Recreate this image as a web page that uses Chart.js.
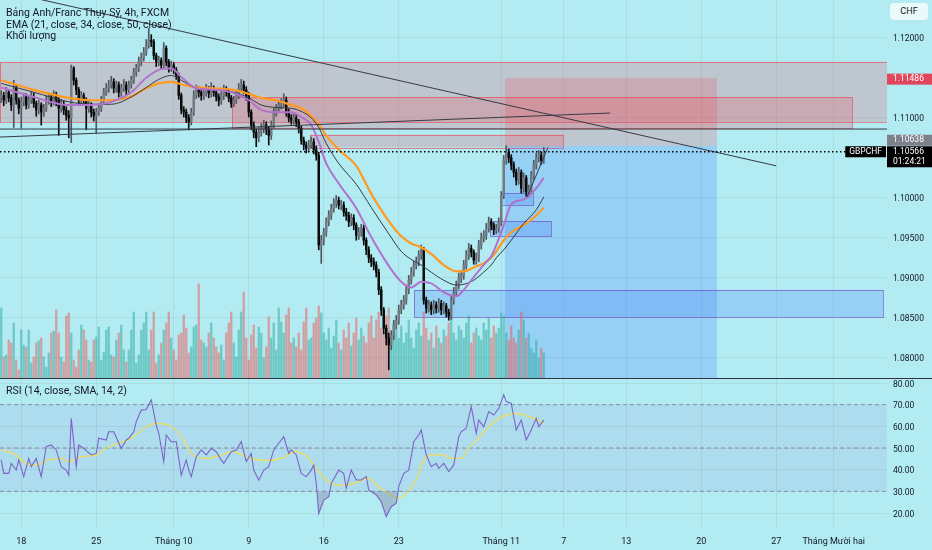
<!DOCTYPE html>
<html>
<head>
<meta charset="utf-8">
<script src="https://cdn.jsdelivr.net/npm/chart.js@4.4.0/dist/chart.umd.min.js"></script>
<style>
  html, body { margin: 0; padding: 0; background: #b2ebf2; }
  #wrap { position: relative; width: 932px; height: 550px; overflow: hidden; font-family: Roboto, "Noto Sans", sans-serif; color: #131722; }
  #priceCanvas { position: absolute; left: 0; top: 0; }
  #rsiCanvas { position: absolute; left: 0; top: 379px; }
  #sep { position: absolute; left: 0; top: 378px; width: 932px; height: 1px; background: #2f333d; }
  .txt { position: absolute; font-size: 10.5px; line-height: 11px; white-space: nowrap; }
  #ccy { position: absolute; left: 890px; top: 3px; width: 38px; height: 17px; line-height: 17px; background: #eafafb; border-radius: 4px; font-size: 9px; text-align: center; }
</style>
</head>
<body>
<div id="wrap">
  <canvas id="priceCanvas" width="932" height="378"></canvas>
  <div id="sep"></div>
  <canvas id="rsiCanvas" width="932" height="171"></canvas>
  <div class="txt" style="left:6px;top:7px">Bảng Anh/Franc Thụy Sỹ, 4h, FXCM</div>
  <div class="txt" style="left:6px;top:18.5px">EMA (21, close, 34, close, 50, close)</div>
  <div class="txt" style="left:6px;top:29.5px">Khối lượng</div>
  <div class="txt" style="left:6px;top:385px">RSI (14, close, SMA, 14, 2)</div>
  <div id="ccy">CHF</div>
</div>
<script>
/* ============================
      DỮ LIỆU NẾN 4H
============================ */
const opens = [
  1.1124,1.1127,1.1121,1.1131,1.1124,1.1115,1.1136,1.1121,1.1111,1.1119,
  1.1125,1.1115,1.1121,1.1126,1.1117,1.1109,1.1115,1.1106,1.1111,1.1121,
  1.1125,1.1119,1.1127,1.1121,1.1111,1.1116,1.1109,1.1102,1.1099,1.1161,
  1.1146,1.1134,1.1121,1.1127,1.1121,1.1111,1.1115,1.1106,1.1102,1.1106,
  1.1111,1.1121,1.1131,1.1136,1.1140,1.1144,1.1136,1.1140,1.1131,1.1136,
  1.1140,1.1134,1.1140,1.1146,1.1156,1.1161,1.1169,1.1174,1.1181,1.1190,
  1.1196,1.1194,1.1177,1.1169,1.1171,1.1165,1.1186,1.1169,1.1161,1.1165,
  1.1159,1.1152,1.1127,1.1109,1.1106,1.1099,1.1094,1.1106,1.1127,1.1134,
  1.1131,1.1127,1.1131,1.1134,1.1130,1.1136,1.1131,1.1125,1.1121,1.1127,
  1.1134,1.1131,1.1124,1.1117,1.1121,1.1127,1.1136,1.1140,1.1134,1.1127,
  1.1106,1.1090,1.1081,1.1074,1.1081,1.1086,1.1090,1.1084,1.1077,1.1090,
  1.1106,1.1111,1.1115,1.1117,1.1121,1.1106,1.1099,1.1096,1.1099,1.1094,
  1.1086,1.1071,1.1065,1.1061,1.1065,1.1069,1.1059,1.1052,1.0940,1.0946,
  1.0956,1.0969,1.0977,1.0986,1.0992,1.0996,1.0990,1.0990,1.0981,1.0977,
  1.0969,1.0974,1.0965,1.0952,1.0956,1.0961,1.0946,1.0934,1.0924,1.0919,
  1.0915,1.0906,1.0884,1.0859,1.0836,1.0824,1.0815,1.0827,1.0840,1.0846,
  1.0859,1.0865,1.0871,1.0884,1.0896,1.0906,1.0915,1.0919,1.0927,1.0934,
  1.0871,1.0861,1.0865,1.0859,1.0865,1.0861,1.0867,1.0859,1.0864,1.0856,
  1.0851,1.0871,1.0881,1.0890,1.0899,1.0902,1.0915,1.0927,1.0936,1.0931,
  1.0921,1.0924,1.0940,1.0949,1.0952,1.0961,1.0969,1.0965,1.0959,1.0961,
  1.0969,1.1002,1.1046,1.1056,1.1049,1.1040,1.1031,1.1021,1.1031,1.1011,
  1.1024,1.1006,1.1009,1.1027,1.1040,1.1049,1.1052,1.1046
];
const highs = [
  1.1133,1.1131,1.1137,1.1134,1.1128,1.1146,1.1139,1.1124,1.1125,1.1130,
  1.1129,1.1126,1.1132,1.1130,1.1120,1.1121,1.1118,1.1116,1.1127,1.1130,
  1.1129,1.1133,1.1131,1.1124,1.1122,1.1120,1.1113,1.1108,1.1165,1.1163,
  1.1149,1.1137,1.1132,1.1130,1.1124,1.1121,1.1118,1.1110,1.1111,1.1117,
  1.1126,1.1136,1.1142,1.1146,1.1151,1.1148,1.1145,1.1144,1.1141,1.1147,
  1.1144,1.1145,1.1151,1.1161,1.1166,1.1175,1.1180,1.1187,1.1197,1.1211,
  1.1203,1.1197,1.1180,1.1176,1.1174,1.1193,1.1189,1.1172,1.1170,1.1168,
  1.1162,1.1155,1.1130,1.1113,1.1110,1.1103,1.1111,1.1133,1.1140,1.1138,
  1.1135,1.1137,1.1141,1.1138,1.1143,1.1139,1.1134,1.1129,1.1132,1.1140,
  1.1138,1.1134,1.1127,1.1126,1.1133,1.1142,1.1147,1.1145,1.1138,1.1131,
  1.1109,1.1094,1.1085,1.1087,1.1092,1.1096,1.1094,1.1088,1.1095,1.1111,
  1.1116,1.1120,1.1123,1.1129,1.1125,1.1110,1.1103,1.1104,1.1103,1.1097,
  1.1089,1.1075,1.1069,1.1071,1.1075,1.1073,1.1064,1.1056,1.0952,1.0961,
  1.0974,1.0983,1.0991,1.0998,1.1002,1.1000,1.0996,1.0994,1.0986,1.0981,
  1.0979,1.0978,1.0968,1.0962,1.0966,1.0965,1.0949,1.0938,1.0928,1.0924,
  1.0919,1.0910,1.0888,1.0862,1.0840,1.0830,1.0833,1.0846,1.0852,1.0865,
  1.0871,1.0877,1.0889,1.0902,1.0912,1.0920,1.0925,1.0933,1.0940,1.0937,
  1.0875,1.0871,1.0869,1.0871,1.0869,1.0873,1.0871,1.0869,1.0867,1.0860,
  1.0876,1.0887,1.0895,1.0905,1.0908,1.0921,1.0933,1.0942,1.0940,1.0934,
  1.0930,1.0946,1.0955,1.0958,1.0967,1.0975,1.0973,1.0968,1.0966,1.0974,
  1.1007,1.1052,1.1064,1.1060,1.1053,1.1044,1.1035,1.1037,1.1034,1.1030,
  1.1027,1.1015,1.1032,1.1046,1.1055,1.1058,1.1056,1.1062
];
const lows = [
  1.1118,1.1114,1.1117,1.1119,1.1108,1.1087,1.1116,1.1104,1.1086,1.1114,
  1.1110,1.1111,1.1117,1.1112,1.1101,1.1104,1.1090,1.1101,1.1107,1.1116,
  1.1113,1.1115,1.1114,1.1077,1.1106,1.1103,1.1096,1.1074,1.1068,1.1140,
  1.1128,1.1115,1.1117,1.1116,1.1084,1.1106,1.1100,1.1095,1.1080,1.1102,
  1.1107,1.1117,1.1127,1.1131,1.1136,1.1130,1.1131,1.1125,1.1126,1.1132,
  1.1128,1.1130,1.1136,1.1142,1.1151,1.1157,1.1164,1.1170,1.1177,1.1186,
  1.1188,1.1172,1.1163,1.1164,1.1160,1.1161,1.1164,1.1156,1.1157,1.1154,
  1.1147,1.1122,1.1104,1.1100,1.1093,1.1084,1.1090,1.1102,1.1123,1.1125,
  1.1121,1.1122,1.1126,1.1124,1.1125,1.1126,1.1120,1.1114,1.1116,1.1122,
  1.1126,1.1119,1.1112,1.1113,1.1117,1.1123,1.1131,1.1129,1.1121,1.1100,
  1.1084,1.1074,1.1063,1.1069,1.1076,1.1080,1.1078,1.1065,1.1072,1.1086,
  1.1101,1.1107,1.1110,1.1113,1.1101,1.1094,1.1091,1.1091,1.1088,1.1080,
  1.1066,1.1059,1.1055,1.1057,1.1061,1.1054,1.1046,1.0934,1.0917,1.0940,
  1.0951,1.0964,1.0972,1.0981,1.0987,1.0985,1.0984,1.0976,1.0971,1.0963,
  1.0964,1.0959,1.0946,1.0947,1.0951,1.0940,1.0928,1.0918,1.0913,1.0909,
  1.0900,1.0878,1.0852,1.0829,1.0815,1.0784,1.0809,1.0822,1.0835,1.0841,
  1.0854,1.0860,1.0866,1.0879,1.0891,1.0901,1.0910,1.0914,1.0922,1.0866,
  1.0855,1.0856,1.0853,1.0854,1.0855,1.0856,1.0853,1.0854,1.0850,1.0846,
  1.0847,1.0866,1.0876,1.0885,1.0893,1.0897,1.0910,1.0922,1.0925,1.0916,
  1.0916,1.0919,1.0935,1.0944,1.0947,1.0956,1.0959,1.0953,1.0954,1.0956,
  1.0964,1.0998,1.1041,1.1043,1.1034,1.1025,1.1015,1.1016,1.1005,1.1006,
  1.1001,1.1000,1.1004,1.1022,1.1035,1.1044,1.1041,1.1042
];
const closes = [
  1.1127,1.1121,1.1131,1.1124,1.1115,1.1136,1.1121,1.1111,1.1119,1.1125,
  1.1115,1.1121,1.1126,1.1117,1.1109,1.1115,1.1106,1.1111,1.1121,1.1125,
  1.1119,1.1127,1.1121,1.1111,1.1116,1.1109,1.1102,1.1099,1.1161,1.1146,
  1.1134,1.1121,1.1127,1.1121,1.1111,1.1115,1.1106,1.1102,1.1106,1.1111,
  1.1121,1.1131,1.1136,1.1140,1.1144,1.1136,1.1140,1.1131,1.1136,1.1140,
  1.1134,1.1140,1.1146,1.1156,1.1161,1.1169,1.1174,1.1181,1.1190,1.1196,
  1.1194,1.1177,1.1169,1.1171,1.1165,1.1186,1.1169,1.1161,1.1165,1.1159,
  1.1152,1.1127,1.1109,1.1106,1.1099,1.1094,1.1106,1.1127,1.1134,1.1131,
  1.1127,1.1131,1.1134,1.1130,1.1136,1.1131,1.1125,1.1121,1.1127,1.1134,
  1.1131,1.1124,1.1117,1.1121,1.1127,1.1136,1.1140,1.1134,1.1127,1.1106,
  1.1090,1.1081,1.1074,1.1081,1.1086,1.1090,1.1084,1.1077,1.1090,1.1106,
  1.1111,1.1115,1.1117,1.1121,1.1106,1.1099,1.1096,1.1099,1.1094,1.1086,
  1.1071,1.1065,1.1061,1.1065,1.1069,1.1059,1.1052,1.0940,1.0946,1.0956,
  1.0969,1.0977,1.0986,1.0992,1.0996,1.0990,1.0990,1.0981,1.0977,1.0969,
  1.0974,1.0965,1.0952,1.0956,1.0961,1.0946,1.0934,1.0924,1.0919,1.0915,
  1.0906,1.0884,1.0859,1.0836,1.0824,1.0815,1.0827,1.0840,1.0846,1.0859,
  1.0865,1.0871,1.0884,1.0896,1.0906,1.0915,1.0919,1.0927,1.0934,1.0871,
  1.0861,1.0865,1.0859,1.0865,1.0861,1.0867,1.0859,1.0864,1.0856,1.0851,
  1.0871,1.0881,1.0890,1.0899,1.0902,1.0915,1.0927,1.0936,1.0931,1.0921,
  1.0924,1.0940,1.0949,1.0952,1.0961,1.0969,1.0965,1.0959,1.0961,1.0969,
  1.1002,1.1046,1.1056,1.1049,1.1040,1.1031,1.1021,1.1031,1.1011,1.1024,
  1.1006,1.1009,1.1027,1.1040,1.1049,1.1052,1.1046,1.1057
];
// khối lượng (nghìn)
const volumes = [
  70,21,23,38,35,55,18,8,48,33,31,48,15,21,35,37,40,21,11,25,
  45,47,68,45,21,16,62,65,45,18,11,28,53,48,38,18,16,38,41,51,
  18,26,48,51,23,21,38,45,53,28,16,28,48,66,15,23,48,55,66,28,
  48,66,15,23,35,48,55,66,40,28,18,43,45,63,50,25,31,51,53,94,
  38,35,31,45,55,40,31,25,33,18,45,55,66,35,21,48,66,86,40,18,
  43,53,30,51,45,20,31,61,40,55,28,70,56,45,63,70,35,40,31,45,28,56,70,38,
  40,55,60,72,65,45,38,50,30,42,58,35,28,48,40,55,32,45,60,38,50,42,35,55,62,40,
  58,66,50,45,62,70,38,55,48,40,52,35,45,58,40,30,48,55,42,66,50,38,45,30,52,40,35,48,42,55,
  60,45,38,52,48,40,55,62,35,45,50,42,38,55,48,60,40,52,45,50,
  65,62,45,38,52,40,35,48,66,58,40,45,30,25,38,20,30,25
];

/* ============================
      EMA 21 / 34 / 50
============================ */
const emaBars = [0,13,27,36,44,52,58,63,68,72,78,85,93,99,104,110,116,120,124,127,
                 130,135,142,148,155,160,164,168,172,177,182,185,189,194,196,198,201,204,209,214,217];
const ema21 = [1.1137,1.1125,1.1115,1.1115,1.1119,1.1131,1.1149,1.1159,1.1161,1.1150,
               1.1136,1.1134,1.1130,1.1121,1.1109,1.1106,1.1106,1.1100,1.1090,1.1069,
               1.1042,1.1017,1.0986,1.0950,1.0914,1.0894,1.0887,1.0894,1.0892,1.0881,
               1.0876,1.0884,1.0900,1.0919,1.0926,1.0940,1.0965,1.0991,1.0997,1.1011,1.1024];
const ema34 = [1.1142,1.1131,1.1119,1.1116,1.1116,1.1125,1.1137,1.1147,1.1152,1.1146,
               1.1136,1.1134,1.1131,1.1124,1.1115,1.1112,1.1111,1.1107,1.1099,1.1087,
               1.1067,1.1042,1.1016,1.0987,1.0954,1.0932,1.0922,1.0915,1.0906,1.0896,
               1.0890,1.0891,1.0896,1.0909,1.0915,1.0924,1.0934,1.0946,1.0967,1.0984,1.1000];
const ema50 = [1.1146,1.1134,1.1124,1.1121,1.1121,1.1126,1.1136,1.1142,1.1144,1.1141,
               1.1137,1.1136,1.1134,1.1129,1.1124,1.1121,1.1115,1.1111,1.1101,1.1091,
               1.1077,1.1059,1.1039,1.1004,1.0970,1.0951,1.0942,1.0937,1.0929,1.0915,
               1.0907,1.0907,1.0912,1.0919,1.0924,1.0932,1.0946,1.0956,1.0965,1.0977,1.0987];

/* ============================
      RSI (14) + SMA (14)
============================ */
const rsiBars = [0,1,3,4,6,7,9,11,12,14, 16,18,20,22,24,26,27,28,30,31,
                 33,36,38,39,42,43,45,48,50,51, 53,54,56,58,60,62,63,65,66,68,
                 70,72,74,75,76,78,80,82,84,86, 88,89,92,94,96,98,100,101,103,105,
                 107,109,111,113,115,116,118,120,122,124, 125,126,127,129,131,132,135,137,138,140,
                 142,144,146,147,150,152,154,156,158,159, 161,163,165,167,168,170,172,174,175,177,
                 179,181,183,184,186,188,190,191,193,195, 197,199,201,202,204,206,208,210,212,214,
                 215,217];
const rsiValues = [44.5,38.3,38.3,42.9,39.8,44.5,36.8,45.2,41.4,45.2, 36.8,50.6,51.4,49.1,41.4,39.8,37.5,63.7,41.4,51.4,
                   49.8,46.8,47.5,54.5,53.7,57.5,57.5,49.8,53.7,54.5, 57.5,62.2,67.5,67.8,72.2,60.6,56.8,43.7,56.0,52.9,
                   52.9,37.5,44.5,39.8,36.8,46.0,49.1,46.8,49.8,48.3, 44.5,42.9,48.3,49.1,52.9,43.7,47.5,39.8,35.2,39.8,
                   41.4,49.1,52.2,55.2,47.5,49.1,46.8,38.3,36.8,39.8, 42.2,33.7,19.8,26.0,27.5,33.7,39.8,38.3,31.4,39.8,
                   35.2,35.2,36.8,30.6,28.3,25.2,18.3,22.9,24.5,32.2, 38.3,39.8,52.9,56.0,58.3,46.8,41.4,42.9,40.6,42.9,
                   39.1,42.2,55.2,57.5,59.1,69.1,56.8,62.9,59.8,66.8, 65.2,68.3,74.5,71.4,70.6,58.3,62.9,53.7,58.3,63.7,
                   59.8,62.9];
const smaBars = [0,5,10,14,19,24,27,32,38,43, 48,53,57,62,67,72,76,82,88,92,
                 95,100,106,112,118,123,126,130,134,138, 143,147,150,154,159,162,166,169,173,177,
                 180,184,187,191,195,198,202,206,211,215, 217];
const smaValues = [49.1,47.5,42.9,42.2,44.5,45.2,43.7,46.0,46.8,50.6,
                   52.5,55.2,59.1,61.4,60.6,55.2,47.5,45.2,46.8,48.3,
                   47.5,45.2,44.2,45.2,48.3,45.2,40.6,35.2,32.9,32.9,
                   34.5,36.0,32.9,29.8,26.8,29.1,35.2,44.5,46.8,46.8,
                   45.2,45.2,49.8,54.5,59.8,62.9,65.2,66.0,64.5,62.9,
                   61.4];
const rsiLevels = [70, 50, 30];

/* ============================
      TRỤC & NHÃN
============================ */
const xMin = -0.5, xMax = 354.3;
const dateTickBars = [8, 38, 69, 99, 129, 159, 200, 225, 250, 280, 310, 333];
const dateTickLabels = ['18','25','Tháng 10','9','16','23','Tháng 11','7','13','20','27','Tháng Mười hai'];
const priceMin = 1.07738, priceMax = 1.12463;
const priceTicks = [1.08, 1.085, 1.09, 1.095, 1.10, 1.11, 1.12];
const rsiMin = 13.08, rsiMax = 81.85;
const rsiTicks = [20, 30, 40, 50, 60, 70, 80];

/* ============================
      VÙNG & ĐƯỜNG VẼ
============================ */
const lastPrice = 1.10566;
const countdown = '01:24:21';
const symbol = 'GBPCHF';
const posStart = 201.5, posEnd = 286.3;
const posEntry = 1.10638, posStop = 1.11486, posTarget = 1.0700;

const supplyLeft   = [xMin, 92.3, 123.5];
const supplyRight  = [xMax, 340.3, 224.7];
const supplyTop    = [1.1169, 1.1125, 1.1078];
const supplyBottom = [1.1094, 1.1086, 1.1062];

const demandLeft   = [165.1, 199.9, 195.5];
const demandRight  = [352.7, 212.7, 219.9];
const demandTop    = [1.0884, 1.1005, 1.0970];
const demandBottom = [1.0850, 1.0990, 1.0951];

const downTrendBars = [10, 310],   downTrendPrices = [1.1251, 1.1039];
const upTrendBars = [xMin, 243.5], upTrendPrices = [1.1075, 1.1105];
const flatLineBars = [xMin, xMax], flatLinePrices = [1.1085, 1.1085];
const microTrendBars = [210.3, 218.7], microTrendPrices = [1.1000, 1.1062];

/* ============================
      CHART
============================ */
Chart.defaults.font.family = 'Roboto, "Noto Sans", sans-serif';
Chart.defaults.font.size = 8.5;
Chart.defaults.color = '#131722';

const gridColor = 'rgba(42,46,57,0.07)';
const idx = closes.map((c, i) => i);
const isUp = idx.map(i => closes[i] >= opens[i]);
const pts = (xs, ys) => xs.map((x, k) => ({ x: x, y: ys[k] }));

const lineDs = (data, color, width, order, extra) => Object.assign({
    type: 'line', data: data, borderColor: color, borderWidth: width,
    pointRadius: 0, fill: false, order: order, tension: 0
}, extra || {});

const zonePlugin = {
    id: 'zones',
    beforeDatasetsDraw(chart) {
        const { ctx, chartArea, scales } = chart;
        const x = scales.x, y = scales.y;
        ctx.save();
        ctx.beginPath();
        ctx.rect(chartArea.left, chartArea.top, chartArea.width, chartArea.height);
        ctx.clip();
        const rect = (l, r, t, b, fill, stroke) => {
            const x0 = x.getPixelForValue(l), x1 = x.getPixelForValue(r);
            const y0 = y.getPixelForValue(t), y1 = y.getPixelForValue(b);
            ctx.fillStyle = fill;
            ctx.fillRect(x0, y0, x1 - x0, y1 - y0);
            if (stroke) {
                ctx.strokeStyle = stroke;
                ctx.lineWidth = 1;
                ctx.strokeRect(Math.round(x0) + 0.5, Math.round(y0) + 0.5, Math.round(x1 - x0), Math.round(y1 - y0));
            }
        };
        supplyLeft.forEach((l, k) => rect(l, supplyRight[k], supplyTop[k], supplyBottom[k], 'rgba(242,54,69,0.2)', 'rgba(242,54,69,0.55)'));
        // short position tool
        rect(posStart, posEnd, posStop, posEntry, 'rgba(242,54,69,0.2)', null);
        rect(posStart, posEnd, posEntry, posTarget, 'rgba(41,98,255,0.2)', null);
        demandLeft.forEach((l, k) => rect(l, demandRight[k], demandTop[k], demandBottom[k], 'rgba(41,98,255,0.2)', 'rgba(103,58,183,0.55)'));
        ctx.restore();
    }
};

const labelPlugin = {
    id: 'priceLabels',
    afterDraw(chart) {
        const { ctx, chartArea, scales } = chart;
        const y = scales.y;
        const left = chartArea.right;
        ctx.save();
        ctx.font = '8.5px Roboto, "Noto Sans", sans-serif';
        ctx.textBaseline = 'middle';
        const tag = (cy, h, bg, lines) => {
            ctx.fillStyle = bg;
            ctx.fillRect(left, cy - h / 2, 932 - left, h);
            ctx.fillStyle = '#ffffff';
            lines.forEach((t, k) => ctx.fillText(t, left + 6, cy - h / 2 + 5.5 + k * 10));
        };
        const yLast = y.getPixelForValue(lastPrice);
        const lastTop = yLast - 5.5;
        tag(y.getPixelForValue(posStop) + 1, 11, '#e2465d', [posStop.toFixed(5)]);
        const yEntry = Math.min(y.getPixelForValue(posEntry), lastTop - 6);
        tag(yEntry, 11, '#7c818c', [posEntry.toFixed(5)]);
        tag(yLast + 5, 21, '#000000', [lastPrice.toFixed(5), countdown]);
        // symbol tag
        ctx.fillStyle = '#000000';
        const w = ctx.measureText(symbol).width + 8;
        ctx.fillRect(left - w - 1, yLast - 5.5, w, 11);
        ctx.fillStyle = '#ffffff';
        ctx.fillText(symbol, left - w + 3, yLast);
        ctx.restore();
    }
};

new Chart(document.getElementById('priceCanvas'), {
    type: 'bar',
    data: {
        datasets: [
            {
                type: 'bar', yAxisID: 'vol', grouped: false, order: 20,
                data: idx.map(i => ({ x: i, y: volumes[i] })),
                backgroundColor: idx.map(i => isUp[i] ? 'rgba(38,166,154,0.5)' : 'rgba(239,83,80,0.5)'),
                barThickness: 1.6
            },
            {
                type: 'bar', grouped: false, order: 9,
                data: idx.map(i => ({ x: i, y: [lows[i], highs[i]] })),
                backgroundColor: idx.map(i => isUp[i] ? '#505760' : '#0b0b0b'),
                barThickness: 1
            },
            {
                type: 'bar', grouped: false, order: 8, minBarLength: 1,
                data: idx.map(i => ({ x: i, y: [opens[i], closes[i]] })),
                backgroundColor: idx.map(i => isUp[i] ? '#737a83' : '#0b0b0b'),
                barThickness: 1.8
            },
            lineDs(pts(emaBars, ema50), '#ff9a1f', 2.2, 5, { cubicInterpolationMode: 'monotone' }),
            lineDs(pts(emaBars, ema34), '#343a44', 1, 4, { cubicInterpolationMode: 'monotone' }),
            lineDs(pts(emaBars, ema21), '#b072cc', 2, 3, { cubicInterpolationMode: 'monotone' }),
            lineDs(pts(downTrendBars, downTrendPrices), '#363a45', 1, 1),
            lineDs(pts(upTrendBars, upTrendPrices), '#363a45', 1, 1),
            lineDs(pts(flatLineBars, flatLinePrices), '#363a45', 1, 1),
            lineDs(pts(microTrendBars, microTrendPrices), '#363a45', 1, 1),
            lineDs(pts([xMin, xMax], [lastPrice, lastPrice]), '#000000', 1.5, 0, { borderDash: [1.5, 2.5] })
        ]
    },
    options: {
        responsive: false,
        animation: false,
        events: [],
        layout: { padding: 0 },
        plugins: { legend: { display: false }, tooltip: { enabled: false } },
        scales: {
            x: {
                type: 'linear', min: xMin, max: xMax, offset: false,
                afterBuildTicks: a => { a.ticks = dateTickBars.map(v => ({ value: v })); },
                afterFit: a => { a.height = 0; a.paddingLeft = 0; a.paddingRight = 0; },
                ticks: { display: false },
                grid: { color: gridColor, drawTicks: false, offset: false },
                border: { display: false }
            },
            y: {
                position: 'right', min: priceMin, max: priceMax,
                afterBuildTicks: a => { a.ticks = priceTicks.map(v => ({ value: v })); },
                afterFit: a => { a.width = 45; a.paddingTop = 0; a.paddingBottom = 0; },
                ticks: { callback: v => Number(v).toFixed(5), padding: 6, labelOffset: 1.5 },
                grid: { color: gridColor, drawTicks: false },
                border: { display: false }
            },
            vol: { display: false, min: 0, max: 378 }
        }
    },
    plugins: [zonePlugin, labelPlugin]
});

new Chart(document.getElementById('rsiCanvas'), {
    type: 'line',
    data: {
        datasets: [
            lineDs(pts([xMin, xMax], [70, 70]), 'rgba(0,0,0,0)', 0, 10,
                { fill: { target: { value: 30 } }, backgroundColor: 'rgba(126,87,194,0.1)' }),
            ...rsiLevels.map(v => lineDs(pts([xMin, xMax], [v, v]), '#8a8e99', 1, 6, { borderDash: [4, 3] })),
            lineDs(pts(smaBars, smaValues), '#f4dc55', 1.2, 2, { cubicInterpolationMode: 'monotone' }),
            lineDs(pts(rsiBars, rsiValues), '#7e62c9', 1.1, 1, {
                fill: { target: { value: 30 }, above: 'rgba(0,0,0,0)', below: 'rgba(120,110,150,0.35)' }
            })
        ]
    },
    options: {
        responsive: false,
        animation: false,
        events: [],
        layout: { padding: 0 },
        plugins: { legend: { display: false }, tooltip: { enabled: false } },
        scales: {
            x: {
                type: 'linear', min: xMin, max: xMax, offset: false,
                afterBuildTicks: a => { a.ticks = dateTickBars.map(v => ({ value: v })); },
                afterFit: a => { a.height = 22; a.paddingLeft = 0; a.paddingRight = 0; },
                ticks: { autoSkip: false, maxRotation: 0, padding: 8, font: { size: 9 },
                         callback: (v, i) => dateTickLabels[i] },
                grid: { color: gridColor, drawTicks: false },
                border: { display: false }
            },
            y: {
                position: 'right', min: rsiMin, max: rsiMax,
                afterBuildTicks: a => { a.ticks = rsiTicks.map(v => ({ value: v })); },
                afterFit: a => { a.width = 45; a.paddingTop = 0; a.paddingBottom = 0; },
                ticks: { callback: v => Number(v).toFixed(2), padding: 6, labelOffset: 1.5 },
                grid: { color: gridColor, drawTicks: false },
                border: { display: false }
            }
        }
    }
});
</script>
</body>
</html>
